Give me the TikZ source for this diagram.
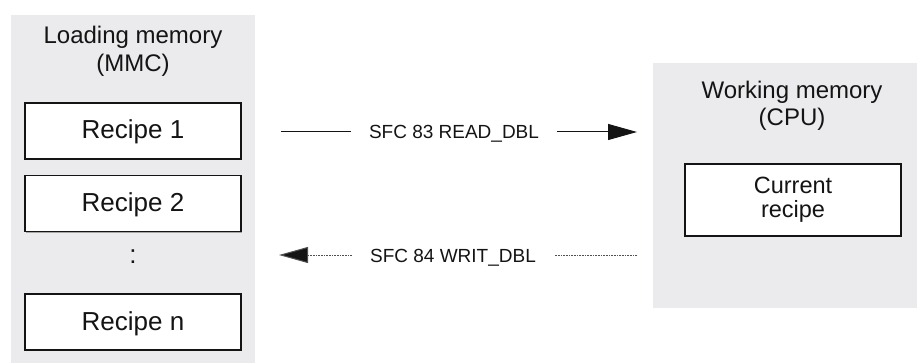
\documentclass[tikz,border=0pt]{standalone}
\usepackage{fontspec}
\setmainfont{Liberation Sans}
\usetikzlibrary{arrows.meta,shadows}
\definecolor{panel}{HTML}{EBEBED}
\definecolor{ink}{HTML}{141414}
\definecolor{dotc}{HTML}{505050}
\begin{document}
\begin{tikzpicture}[x=1pt,y=-1pt,
  panelbox/.style={fill=panel, draw=none, inner sep=0pt},
  hdr/.style={anchor=base, inner sep=0pt, text=ink, font=\fontsize{24}{28}\selectfont},
  rbox/.style={draw=ink, line width=1.1pt, fill=white, inner sep=0pt,
    minimum width=216pt, minimum height=56pt, text height=19pt, text depth=3pt,
    text=ink, font=\fontsize{26}{30}\selectfont,
    drop shadow={shadow xshift=1pt, shadow yshift=-1pt, fill=black!35, opacity=1}},
  cbox/.style={draw=ink, line width=1.1pt, fill=white, inner sep=0pt,
    minimum width=216pt, minimum height=72pt,
    drop shadow={shadow xshift=1pt, shadow yshift=-1pt, fill=black!35, opacity=1}},
  ctext/.style={anchor=base, inner sep=0pt, text=ink, font=\fontsize{23.5}{27}\selectfont},
  lab/.style={inner xsep=18pt, inner ysep=0pt, text height=16pt, text depth=2pt,
    text=ink, font=\fontsize{19}{22}\selectfont},
  conn/.style={draw=ink, line width=1pt},
  dotline/.style={draw=dotc, line width=1pt, dash pattern=on 0.8pt off 0.8pt},
  tip/.style={-{Triangle[length=29pt,width=16pt,fill=ink]}}
]
\useasboundingbox (0,0) rectangle (917,363);
% panels
\node[panelbox, minimum width=244pt, minimum height=348pt] (lm) at (133,189) {};
\node[panelbox, minimum width=264pt, minimum height=245pt] (wm) at (785,185.5) {};
% left panel content
\node[hdr] (lmh1) at (133,44) {Loading memory};
\node[hdr] (lmh2) at (133,72) {(MMC)};
\node[rbox] (r1) at (133,131) {Recipe 1};
\node[rbox] (r2) at (133,203.5) {Recipe 2};
\node[hdr, font=\fontsize{26}{30}\selectfont] (dots) at (133,263) {:};
\node[rbox] (rn) at (133,322) {Recipe n};
% right panel content
\node[hdr] (wmh1) at (792,99) {Working memory};
\node[hdr] (wmh2) at (792,126) {(CPU)};
\node[cbox] (cur) at (793,200) {};
\node[ctext] (cur1) at (793,194) {Current};
\node[ctext] (cur2) at (793,218) {recipe};
% connectors
\node[lab] (l1) at (454,132) {SFC 83 READ\_DBL};
\coordinate (a1) at (281,132);
\coordinate (a2) at (637,132);
\draw[conn] (a1) -- (l1.west);
\draw[conn, tip] (l1.east) -- (a2);
\node[lab] (l2) at (453,255) {SFC 84 WRIT\_DBL};
\coordinate (b1) at (279,255);
\coordinate (b2) at (637,255);
\draw[dotline] (b2) -- (l2.east);
\draw[dotline, tip] (l2.west) -- (b1);
\end{tikzpicture}
\end{document}
